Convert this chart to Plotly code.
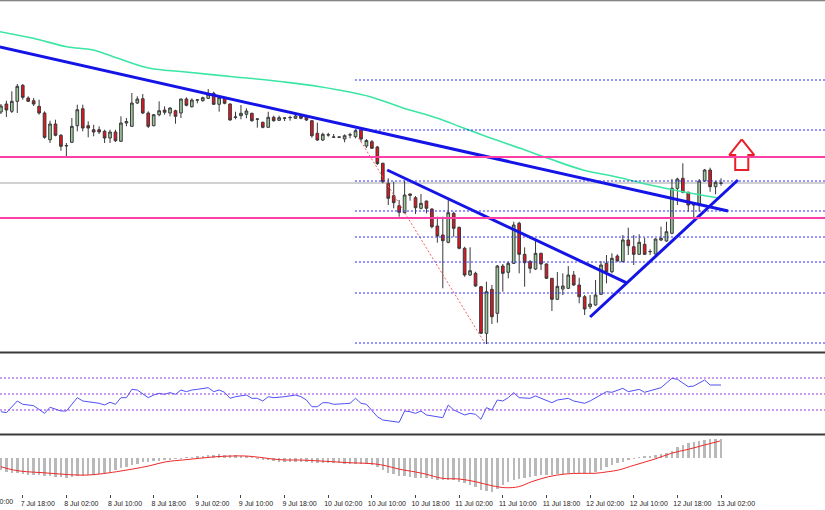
import pandas as pd
import plotly.graph_objects as go
from plotly.subplots import make_subplots

START = "2018-07-07 14:00"

OPEN = [444, 448, 444.35, 449.35, 457.35, 451, 449.65, 446.85, 443.5, 430.15,
        438, 432.35, 427, 428.85, 437.15, 445.65, 437.15, 435.15, 435.15, 434.35,
        431, 434, 429.35, 438.5, 436.85, 448.5, 450.65, 443.5, 437.15, 442.65,
        445, 443.5, 444.65, 443.5, 450.5, 446.65, 449.9, 449.65, 450.85, 453.35,
        447.85, 451.15, 448, 441.35, 442.15, 442.85, 443.35, 440.35, 438.85, 436.35,
        441.35, 439.85, 440.85, 441.15, 440.85, 442, 441.65, 439.65, 433.35, 430,
        432.5, 431.35, 431.35, 430.5, 432.5, 431.65, 435.15, 427, 429.15, 426.5,
        418.35, 408.35, 402.15, 397.15, 393.65, 403, 401.15, 395.85, 399.5, 395.5,
        387, 382.5, 378.85, 393.35, 386.35, 375.85, 362.5, 363.35, 356.65, 333.35,
        355.35, 343.35, 367, 363.85, 368.35, 388.35, 372.85, 369.15, 365.5, 373.35,
        368, 360.85, 350.35, 355.5, 355.85, 362.5, 357.5, 351.65, 346.65, 347.5,
        352.85, 368.35, 364.15, 372, 369.15, 380, 376.65, 372.85, 377.85, 374.15,
        373, 380, 379.5, 383.35, 405.85, 410.85, 403.85, 397.5, 397.5, 409.5,
        415, 406.65, 408.35]
HIGH = [448, 449.65, 454.35, 458, 458, 451.85, 451, 450.15, 444.35, 439.65,
        440.15, 433, 428.5, 441, 447.65, 447.65, 439.35, 437.65, 436.85, 435.15,
        435.15, 435.15, 441.85, 441, 453.5, 451.85, 453, 444.35, 443, 449.35,
        446.85, 446.35, 445.15, 450.65, 451.35, 450.85, 450.35, 451.65, 455.5, 454.15,
        451.65, 451.65, 448.35, 444.15, 447.5, 445.85, 443.65, 440.85, 439.15, 444.15,
        442.15, 442.15, 441.35, 442.15, 443, 442.85, 442, 440, 438.65, 433.65,
        433.65, 433, 431.65, 432.85, 433.65, 435.35, 435.85, 430.5, 430, 427,
        418.65, 410.85, 409.15, 400, 409.65, 403.35, 402, 403, 399.65, 395.85,
        391.65, 391.65, 400.35, 394.15, 386.65, 376.65, 376.35, 364.15, 357, 359.15,
        357.5, 367.5, 368, 369.15, 389.15, 389.15, 376.35, 370, 379.5, 373.65,
        368.35, 360.85, 364, 363.35, 367, 364.5, 361.15, 352.5, 352.5, 360,
        369.5, 372.5, 373.35, 372.85, 382.5, 386.15, 382.5, 382.85, 381.15, 375.35,
        380.85, 386.65, 389.15, 410.5, 411.15, 418.35, 404.15, 398.35, 410.5, 415.5,
        416.15, 409.5, 410.85]
LOW = [443, 441.5, 443.5, 443.5, 450.15, 449, 447, 442.65, 430.65, 428.5,
       431.85, 424.65, 421.35, 428.5, 434.35, 434.35, 431.35, 431.85, 433, 428.5,
       428.5, 429, 429, 436.85, 436.5, 448, 443, 436, 436.85, 441.85,
       442.65, 441.85, 438.15, 441, 446.85, 446.15, 448.35, 449.15, 450.5, 447.5,
       444.15, 447.85, 439.65, 440.35, 440.35, 440.85, 439.15, 436.15, 435.85, 436.15,
       439.15, 439.5, 439.5, 439.65, 440.5, 440.35, 439.5, 431.15, 429.5, 429.5,
       431.65, 431.15, 431, 428.85, 430.85, 430.85, 429.15, 426, 425.5, 417.5,
       408.35, 397.5, 395.85, 391.65, 393.35, 399.65, 393, 395.35, 393.35, 385.85,
       378.65, 355.85, 378.35, 381.65, 375.35, 361.65, 362, 356.65, 333, 328,
       338, 338.65, 354.15, 360.85, 368, 363.35, 356.65, 363.35, 365, 365,
       360.5, 344.5, 350, 352.5, 355.5, 357.15, 348.35, 342.5, 345.5, 347.15,
       352.5, 358.35, 363.35, 369.15, 368.85, 372.5, 367.5, 372.5, 372.5, 372.5,
       372.85, 379.5, 379.15, 382.85, 397.5, 403.35, 394.15, 390.85, 394.15, 409.15,
       404.15, 402.85, 407.15]
CLOSE = [447, 445, 449.35, 456.85, 451.35, 449.35, 448, 443.5, 431.35, 438,
         432.35, 426.85, 427.25, 436.85, 445.15, 436, 436, 434, 434, 431,
         434, 429.65, 438.5, 439.25, 448.5, 450.5, 443.5, 436.85, 442.65, 444.65,
         443.85, 446, 441.85, 450.5, 447.35, 450, 450.1, 451.15, 452.85, 447.85,
         451.15, 448.35, 440, 441.5, 443.35, 444.5, 439.65, 440.5, 436.35, 441.35,
         439.65, 441.15, 441, 441.25, 442, 440.85, 440, 432.15, 430, 432.85,
         432.6, 431.5, 431.5, 432.15, 432.6, 434.65, 430.5, 429.75, 425.85, 418.25,
         409.15, 400.85, 398.65, 393.85, 402.5, 402.35, 396.15, 398.35, 395.85, 386.65,
         382, 379.65, 393.65, 385.85, 375.85, 362.5, 364.65, 357, 333.35, 354.15,
         341.65, 367, 363.35, 368.35, 387.5, 372.85, 368.65, 365.85, 373.35, 368,
         360.85, 350.35, 356.85, 357, 362.5, 357.5, 351.65, 345.5, 348, 352.5,
         367.5, 364.15, 370.85, 369.5, 380, 377.15, 372.85, 378.85, 372.85, 374.25,
         380.5, 380.85, 384.15, 405.85, 410.5, 403.85, 397.5, 397.65, 409.5, 415,
         406.65, 408.85, 408.5]

# moving average (hours from START, value)
MA_H = [-0.2, 5.9, 12.1, 16.9, 21.3, 27.3, 33.4, 42.5, 51.2, 58.5, 67.7, 73.7, 79.9,
        84.2, 89.1, 95.2, 100.7, 106.7, 112.9, 119, 125, 131.3]
MA_V = [484.15, 480.85, 476.65, 475, 471, 465.85, 464.15, 461.65, 459.25, 456.65, 451.65,
        446, 441, 436.65, 431.65, 425.85, 420.5, 415, 411.5, 407.5, 404.15, 401.15]

# RSI
RSI_H = [0, 1, 3, 4, 6, 8, 9, 11, 12, 14, 15, 18, 19, 20, 21, 22, 23, 24, 25, 27, 28, 29, 30,
         31, 32, 33, 34, 35, 36, 38, 39, 40, 41, 42, 43, 45, 46, 47, 48, 49, 50, 52, 54, 55,
         56, 57, 58, 59, 60, 61, 63, 64, 65, 66, 67, 68, 69, 70, 73, 74, 75, 76, 77, 78, 81,
         82, 83, 85, 86, 87, 88, 89, 90, 91, 92, 93, 94, 95, 97, 98, 99, 101, 102, 104, 105,
         107, 108, 110, 111, 112, 114, 115, 117, 118, 120, 121, 123, 124, 126, 127, 129,
         130, 132]
RSI_V = [27.9, 26.6, 41.25, 37.1, 35.4, 25.8, 33.4, 28.75, 28.75, 45.4, 41.25, 38.4, 36.25,
         39.6, 37.1, 45.4, 45.4, 55.8, 55, 45.4, 48.75, 50.8, 49.6, 51.7, 49.6, 55, 52.9,
         55, 55.8, 57.9, 52.9, 55, 52.1, 44.6, 46.6, 48.75, 44.6, 44.6, 41.25, 46.6, 45.4,
         46.6, 48.75, 46.6, 42.5, 34.1, 34.1, 39.1, 39.1, 37.1, 37.9, 38.4, 44.6, 38.4,
         37.1, 30, 21.6, 17.5, 14.6, 28.75, 27.9, 25.8, 28.75, 23.75, 20.4, 36.25, 30,
         23.75, 25.8, 24.6, 18.4, 32.9, 30, 42.5, 41.25, 45.4, 51.7, 45.4, 44.6, 47.5,
         44.6, 39.1, 42.5, 44.6, 41.25, 38.4, 41.25, 49.6, 52.9, 52.1, 57.1, 52.9, 55.8,
         52.1, 56.25, 57.9, 69.6, 68.4, 59.1, 60, 67.5, 61.25, 61.25]
RSI_LEVELS = [70, 50, 30]

# MACD histogram (one per candle) and signal line
MACD_HIST = [-1.2, -1.37, -1.5, -1.53, -1.6, -1.65, -1.7, -1.7, -1.75, -1.8,
             -1.85, -1.9, -1.97, -1.9, -1.8, -1.75, -1.7, -1.65, -1.55, -1.45,
             -1.37, -1.2, -1.0, -0.85, -0.7, -0.55, -0.43, -0.35, -0.3, -0.25,
             -0.2, -0.13, -0.07, -0.03, 0.02, 0.07, 0.15, 0.25, 0.33, 0.35,
             0.37, 0.35, 0.3, 0.27, 0.23, 0.17, 0.1, -0.03, -0.15, -0.2,
             -0.3, -0.35, -0.37, -0.37, -0.37, -0.4, -0.43, -0.45, -0.47, -0.5,
             -0.5, -0.53, -0.53, -0.55, -0.55, -0.57, -0.6, -0.63, -0.7, -0.9,
             -1.2, -1.45, -1.63, -1.77, -1.8, -1.87, -2.0, -2.0, -2.03, -2.1,
             -2.2, -2.2, -2.2, -2.23, -2.37, -2.5, -2.65, -2.87, -3.2, -3.3,
             -3.43, -3.1, -2.7, -2.4, -2.2, -2.1, -1.97, -1.87, -1.8, -1.73,
             -1.7, -1.65, -1.6, -1.55, -1.53, -1.53, -1.53, -1.53, -1.5, -1.37,
             -1.15, -0.9, -0.7, -0.5, -0.35, -0.2, -0.1, 0.1, 0.13, 0.2,
             0.3, 0.4, 0.5, 0.75, 1.1, 1.35, 1.5, 1.6, 1.7, 1.8,
             1.87, 1.87, 1.9]
SIG_H = [0, 2.3, 4.7, 7.7, 10.8, 13.8, 16, 18.1, 21.2, 24.2, 27.3, 30.3, 33.3, 36.4, 39.4,
         42.5, 44.9, 47.4, 49.8, 52.2, 54.7, 57.7, 60.8, 63.8, 66.9, 68.7, 70.5, 72.9, 76,
         77.8, 80.9, 84, 87, 90, 92.5, 94.9, 97.3, 100.4, 103.4, 106.5, 108.9, 111.3, 113.2,
         116.2, 119.9, 122.9, 126, 129, 131.8]
SIG_V = [-0.87, -1.2, -1.37, -1.47, -1.6, -1.7, -1.7, -1.6, -1.37, -1.1, -0.77, -0.37, -0.2,
         -0.03, 0.13, 0.2, 0.2, 0.07, -0.1, -0.2, -0.2, -0.27, -0.37, -0.47, -0.53, -0.6,
         -0.77, -1.1, -1.4, -1.6, -2.03, -2.1, -2.37, -2.77, -2.97, -2.87, -2.37, -1.87,
         -1.6, -1.53, -1.53, -1.37, -1.2, -0.7, -0.1, 0.47, 0.87, 1.3, 1.7]

# drawn objects: (hours from START, price)
TRENDLINES = [[(-0.2, 476.5), (133.3, 394.5)],
              [(70.8, 415.0), (114.8, 358.5)],
              [(108.0, 341.5), (135.1, 410.0)]]
FIB_LINE = [(65.6, 431.0), (88.7, 328.5)]
FIB_START_H = 64.9
FIB_LEVELS = [460, 435, 409.5, 394.5, 381.5, 369, 353.5, 328.5]
PINK_LEVELS = [421.5, 391.0]
BID_PRICE = 408.5
ARROW = [(135.8, 430.3), (138.1, 422.5), (137.0, 422.5), (137.0, 415.0),
         (134.6, 415.0), (134.6, 422.5), (133.5, 422.5), (135.8, 430.3)]

TICK_FIRST, TICK_LAST = "2018-07-07 18:00", "2018-07-13 02:00"
PARTIAL_LABEL = "7 Jul 10:00"

t0 = pd.Timestamp(START)
def T(h):
    return t0 + pd.to_timedelta(h, unit="h")

times = pd.date_range(START, periods=len(OPEN), freq="h")

fig = make_subplots(rows=3, cols=1, shared_xaxes=True, vertical_spacing=0)

fig.add_trace(go.Candlestick(
    x=times, open=OPEN, high=HIGH, low=LOW, close=CLOSE,
    increasing=dict(fillcolor="#9cc89c", line=dict(color="#3a3a3a", width=1)),
    decreasing=dict(fillcolor="#e5141e", line=dict(color="#3a3a3a", width=1)),
    whiskerwidth=0, hoverinfo="skip"), row=1, col=1)

fig.add_trace(go.Scatter(x=[T(h) for h in MA_H], y=MA_V, mode="lines",
                         line=dict(color="#3be6a4", width=1.6, shape="spline"),
                         hoverinfo="skip"), row=1, col=1)

for seg in TRENDLINES:
    fig.add_trace(go.Scatter(x=[T(p[0]) for p in seg], y=[p[1] for p in seg], mode="lines",
                             line=dict(color="#1414e6", width=3), hoverinfo="skip"),
                  row=1, col=1)

fig.add_trace(go.Scatter(x=[T(p[0]) for p in FIB_LINE], y=[p[1] for p in FIB_LINE],
                         mode="lines", line=dict(color="#f06060", width=1, dash="2px,2px"),
                         hoverinfo="skip"), row=1, col=1)

fig.add_trace(go.Scatter(x=[T(p[0]) for p in ARROW], y=[p[1] for p in ARROW], mode="lines",
                         line=dict(color="#e8202a", width=2), hoverinfo="skip"),
              row=1, col=1)

# RSI
fig.add_trace(go.Scatter(x=[T(h) for h in RSI_H], y=RSI_V, mode="lines",
                         line=dict(color="#5050f5", width=1), hoverinfo="skip"), row=2, col=1)

# MACD
fig.add_trace(go.Bar(x=times, y=MACD_HIST, marker_color="#b9b9b9", marker_line_width=0,
                     width=0.45 * 3600 * 1000, hoverinfo="skip"), row=3, col=1)
fig.add_trace(go.Scatter(x=[T(h) for h in SIG_H], y=SIG_V, mode="lines",
                         line=dict(color="#f02828", width=1, shape="spline"),
                         hoverinfo="skip"), row=3, col=1)

shapes = []
for lv in FIB_LEVELS:
    shapes.append(dict(type="line", xref="x", yref="y", x0=T(FIB_START_H), x1=T(170),
                       y0=lv, y1=lv, line=dict(color="#2a2aff", width=1, dash="2px,2px"),
                       layer="above"))
shapes.append(dict(type="line", xref="paper", yref="y", x0=0, x1=1, y0=BID_PRICE,
                   y1=BID_PRICE, line=dict(color="#a0a4a8", width=1), layer="below"))
for lv in PINK_LEVELS:
    shapes.append(dict(type="line", xref="paper", yref="y", x0=0, x1=1, y0=lv, y1=lv,
                       line=dict(color="#ff3fa6", width=2), layer="above"))
for lv in RSI_LEVELS:
    shapes.append(dict(type="line", xref="paper", yref="y2", x0=0, x1=1, y0=lv, y1=lv,
                       line=dict(color="#9a3ae0", width=1, dash="2px,2px"), layer="above"))
# panel separators
shapes.append(dict(type="line", xref="paper", yref="paper", x0=0, x1=1, y0=0.9985, y1=0.9985,
                   line=dict(color="#606060", width=1)))
shapes.append(dict(type="line", xref="paper", yref="paper", x0=0, x1=1, y0=0.2864, y1=0.2864,
                   line=dict(color="#3a3a3a", width=2)))
shapes.append(dict(type="line", xref="paper", yref="paper", x0=0, x1=1, y0=0.1205, y1=0.1205,
                   line=dict(color="#3a3a3a", width=2)))

xr = [T(-0.17), T(151.06)]
tickvals = pd.date_range(TICK_FIRST, TICK_LAST, freq="8h")

fig.update_layout(
    width=825, height=510, margin=dict(l=0, r=0, t=0, b=16),
    paper_bgcolor="white", plot_bgcolor="white", showlegend=False,
    shapes=shapes, bargap=0,
    annotations=[dict(text=PARTIAL_LABEL, xref="paper", yref="paper", x=-0.028, y=-0.004,
                      xanchor="left", yanchor="top", showarrow=False,
                      font=dict(family="Liberation Sans", size=7, color="#222"))],
)
for ax in ["xaxis", "xaxis2", "xaxis3"]:
    fig.layout[ax].update(range=xr, showgrid=False, zeroline=False, showline=False,
                          rangeslider=dict(visible=False))
fig.layout.xaxis.showticklabels = False
fig.layout.xaxis2.showticklabels = False
fig.layout.xaxis3.update(tickvals=tickvals, tickformat="%-d %b %H:%M", ticks="outside",
                         ticklen=3, tickcolor="#444", ticklabelshift=15,
                         tickfont=dict(family="Liberation Sans", size=7, color="#222"))

fig.layout.yaxis.update(domain=[0.2874, 1], range=[324, 500], showticklabels=False,
                        showgrid=False, zeroline=False)
fig.layout.yaxis2.update(domain=[0.1215, 0.2854], range=[0, 101.25], showticklabels=False,
                         showgrid=False, zeroline=False)
fig.layout.yaxis3.update(domain=[0, 0.1174], range=[-3.6, 2.2], showticklabels=False,
                         showgrid=False, zeroline=False)

fig.write_html("out.html")
